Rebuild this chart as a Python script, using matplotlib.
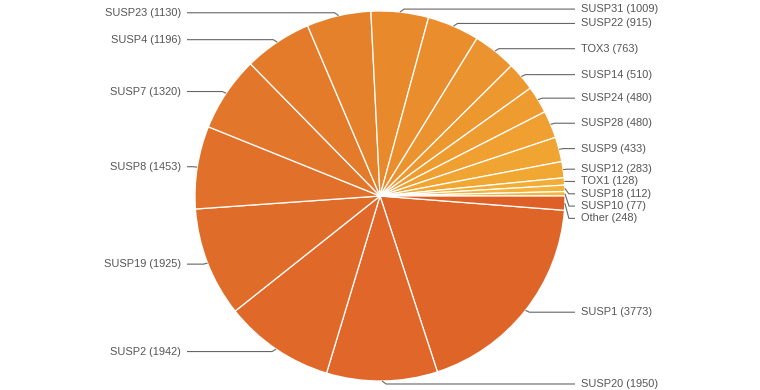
import numpy as np
import matplotlib
matplotlib.use("Agg")
import matplotlib.pyplot as plt

# slices, clockwise from just below 3 o'clock (Other closes the circle at 3 o'clock)
names = ["SUSP1", "SUSP20", "SUSP2", "SUSP19", "SUSP8", "SUSP7", "SUSP4", "SUSP23",
         "SUSP31", "SUSP22", "TOX3", "SUSP14", "SUSP24", "SUSP28", "SUSP9", "SUSP12",
         "TOX1", "SUSP18", "SUSP10", "Other"]
counts = [3773, 1950, 1942, 1925, 1453, 1320, 1196, 1130,
          1009, 915, 763, 510, 480, 480, 433, 283,
          128, 112, 77, 248]
colors = ["#df6428", "#e0662a", "#e0692a", "#e06c2a", "#e1712a", "#e2762a", "#e37b2a", "#e5812b",
          "#e8892c", "#ea8e2d", "#eb932e", "#ed982f", "#ee9c30", "#efa030", "#f0a431", "#f1a833",
          "#f2ad36", "#f3b23a", "#f4b63e", "#de6027"]

W, H = 760, 390
cx, cy, r = 380, H - 196, 185

fig = plt.figure(figsize=(7.6, 3.9), dpi=100)
ax = fig.add_axes([0, 0, 1, 1])

total = sum(counts)
start = -360.0 * counts[-1] / total
wedges, _ = ax.pie(counts, colors=colors, startangle=start, counterclock=False,
                   center=(cx, cy), radius=r, frame=True,
                   wedgeprops=dict(edgecolor="white", linewidth=0.9))
ax.set_xlim(0, W)
ax.set_ylim(0, H)
ax.set_aspect("equal")
ax.axis("off")

# label placement from wedge mid angles, pushed apart per side
items = []
for w, n, c in zip(wedges, names, counts):
    mid = np.deg2rad((w.theta1 + w.theta2) / 2)
    ex, ey = cx + r * np.cos(mid), cy + r * np.sin(mid)
    side = 1 if np.cos(mid) >= 0 else -1
    ly = cy + (r + 3) * np.sin(mid)
    items.append(dict(text="%s (%d)" % (n, c), ex=ex, ey=ey, side=side, ly=ly))

gap = 12.3
for side in (1, -1):
    grp = sorted([it for it in items if it["side"] == side], key=lambda d: -d["ey"])
    prev = None
    for it in grp:
        if prev is not None:
            it["ly"] = min(it["ly"], prev - gap)
        prev = it["ly"]

for it in items:
    s = it["side"]
    lx = 581 if s > 0 else 181
    ly = it["ly"]
    xs = [it["ex"], it["ex"] + 4 * s, lx - 6 * s]
    ys = [it["ey"], ly, ly]
    ax.plot(xs, ys, color="#666666", lw=0.8, solid_capstyle="butt")
    ax.text(lx, ly, it["text"], ha="left" if s > 0 else "right", va="center",
            fontsize=7.9, color="#555555", family=["Liberation Sans", "DejaVu Sans"])

fig.savefig("out.png", dpi=100)
